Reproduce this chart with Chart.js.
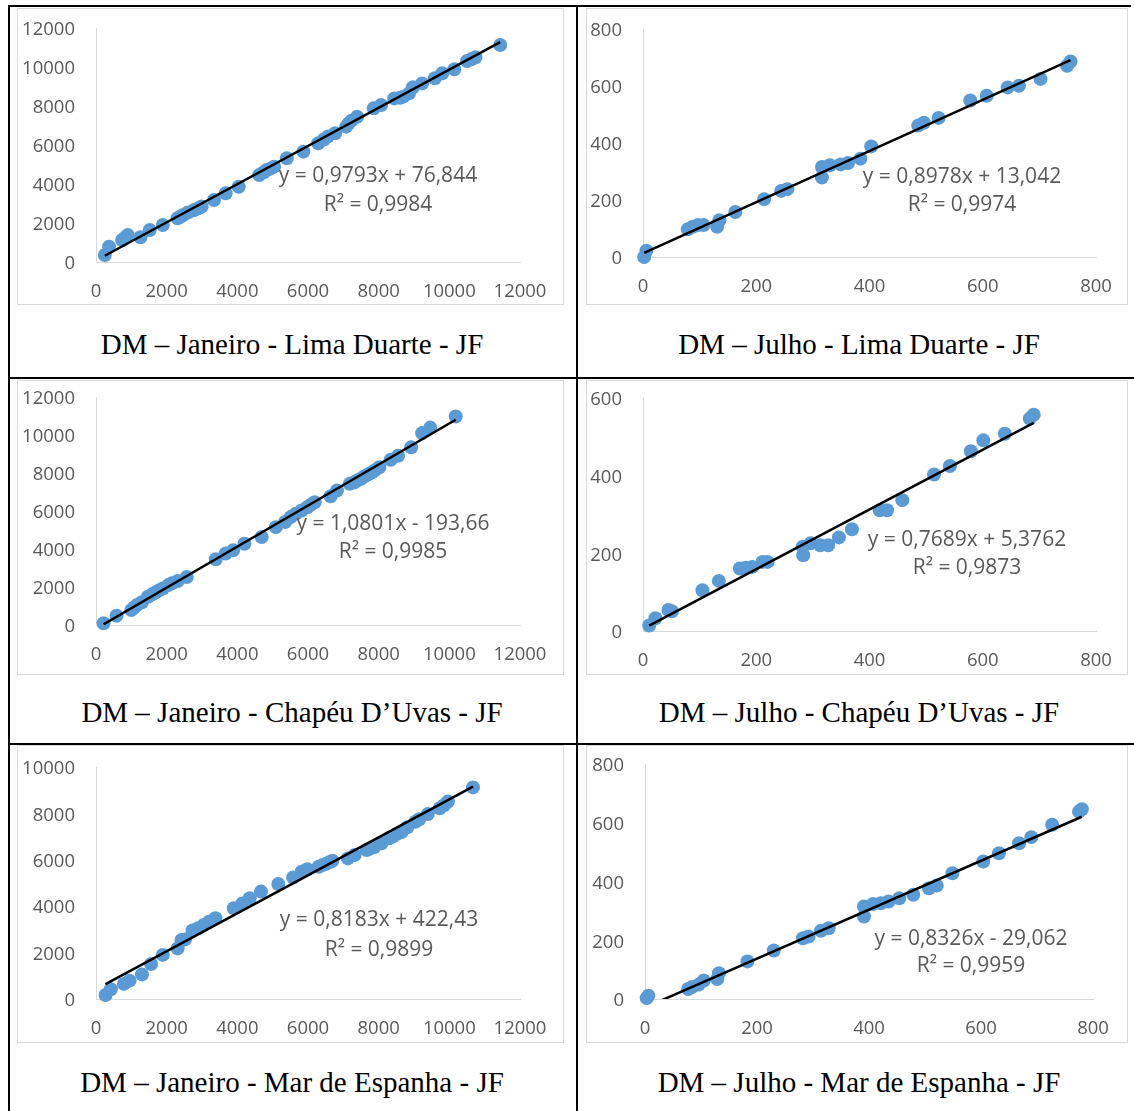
<!DOCTYPE html>
<html><head><meta charset="utf-8">
<script src="https://cdn.jsdelivr.net/npm/chart.js@4.4.1/dist/chart.umd.min.js"></script>
<style>
html,body{margin:0;padding:0;background:#fff;}
body{width:1134px;height:1111px;position:relative;overflow:hidden;}
.ln{position:absolute;background:#000;}
.box{position:absolute;border:1px solid #d9d9d9;box-sizing:border-box;}
canvas{position:absolute;}
.cap{position:absolute;font-family:"Liberation Serif","Times New Roman",serif;font-size:29px;color:#000;white-space:nowrap;transform:translate(-50%,-50%);}
</style></head><body>
<div class="ln" style="left:8px;top:5px;width:1123px;height:2px"></div>
<div class="ln" style="left:8px;top:5px;width:2px;height:1106px"></div>
<div class="ln" style="left:576px;top:5px;width:2px;height:1106px"></div>
<div class="ln" style="left:8px;top:377px;width:1126px;height:2px"></div>
<div class="ln" style="left:8px;top:743px;width:1126px;height:2px"></div>
<script>
// ---------- DATA ----------
const janLimaX = [250, 370, 740, 820, 900, 1260, 1520, 1890, 2310, 2400, 2470, 2600, 2780, 2900, 2990, 3340, 3670, 4040, 4620, 4750, 4830, 4950, 5040, 5400, 5870, 6290, 6450, 6560, 6770, 7080, 7150, 7230, 7390, 7860, 8070, 8440, 8600, 8700, 8860, 8970, 9230, 9590, 9800, 10140, 10500, 10620, 10740, 11440];
const janLimaY = [360, 780, 1130, 1250, 1380, 1270, 1640, 1900, 2240, 2330, 2410, 2540, 2670, 2760, 2840, 3180, 3520, 3860, 4460, 4600, 4720, 4800, 4890, 5320, 5660, 6090, 6280, 6430, 6600, 6940, 7100, 7250, 7450, 7880, 8050, 8390, 8420, 8480, 8650, 8960, 9160, 9420, 9680, 9880, 10310, 10400, 10500, 11130];

const julLimaX = [2, 6, 79, 88, 97, 107, 131, 135, 163, 214, 244, 255, 316, 316, 330, 349, 362, 384, 403, 486, 496, 522, 578, 607, 644, 664, 702, 749, 755];
const julLimaY = [0, 22, 97, 106, 112, 112, 106, 129, 158, 203, 232, 238, 316, 279, 322, 325, 330, 345, 388, 461, 471, 488, 549, 566, 595, 601, 625, 671, 686];

const janChapX = [215, 580, 1000, 1080, 1160, 1300, 1470, 1580, 1680, 1780, 1890, 2050, 2150, 2310, 2570, 3390, 3670, 3880, 4200, 4690, 5090, 5350, 5510, 5650, 5820, 5980, 6080, 6190, 6640, 6820, 7180, 7300, 7390, 7500, 7600, 7700, 7810, 7900, 8020, 8340, 8550, 8920, 9230, 9460, 10180];
const janChapY = [90, 490, 790, 920, 1050, 1200, 1490, 1600, 1710, 1820, 1920, 2100, 2200, 2310, 2530, 3460, 3760, 3930, 4280, 4630, 5150, 5420, 5680, 5850, 6030, 6200, 6330, 6460, 6780, 7080, 7430, 7500, 7600, 7700, 7830, 7930, 8040, 8150, 8300, 8700, 8910, 9350, 10100, 10390, 10970];

const julChapX = [11, 22, 45, 51, 105, 134, 171, 181, 193, 211, 220, 282, 283, 296, 313, 327, 346, 369, 418, 431, 458, 514, 542, 579, 601, 639, 683, 690];
const julChapY = [14, 33, 54, 51, 105, 129, 161, 163, 165, 178, 178, 217, 195, 226, 221, 221, 241, 262, 311, 311, 337, 403, 425, 463, 491, 508, 547, 557];

const janMarX = [270, 420, 790, 950, 1300, 1560, 1890, 2310, 2420, 2520, 2730, 2890, 3050, 3200, 3380, 3900, 4140, 4350, 4670, 5160, 5580, 5820, 5980, 6300, 6400, 6500, 6600, 6690, 7130, 7320, 7660, 7750, 7870, 8080, 8290, 8400, 8510, 8650, 8810, 9040, 9150, 9390, 9730, 9850, 9960, 10670];
const janMarY = [170, 420, 650, 790, 1060, 1510, 1900, 2180, 2540, 2570, 2950, 3050, 3190, 3330, 3480, 3910, 4120, 4340, 4630, 4960, 5240, 5490, 5590, 5700, 5760, 5820, 5890, 5960, 6060, 6210, 6420, 6480, 6540, 6710, 6930, 7000, 7110, 7200, 7400, 7640, 7750, 7970, 8220, 8350, 8510, 9120];

const julMarX = [3, 6, 77, 84, 96, 105, 129, 132, 183, 230, 282, 292, 314, 328, 391, 391, 407, 421, 435, 454, 479, 507, 521, 549, 604, 632, 668, 690, 727, 775, 780];
const julMarY = [3, 11, 34, 41, 49, 63, 68, 88, 128, 165, 207, 213, 232, 241, 315, 281, 323, 326, 332, 343, 355, 377, 386, 428, 468, 496, 530, 551, 593, 638, 646];

const slopes = [0.9793, 0.8978, 1.0801, 0.7689, 0.8183, 0.8326];
const intercepts = [76.844, 13.042, -193.66, 5.3762, 422.43, -29.062];
const eqTexts = ['y = 0,9793x + 76,844', 'y = 0,8978x + 13,042', 'y = 1,0801x - 193,66', 'y = 0,7689x + 5,3762', 'y = 0,8183x + 422,43', 'y = 0,8326x - 29,062'];
const r2Texts = ['R² = 0,9984', 'R² = 0,9974', 'R² = 0,9985', 'R² = 0,9873', 'R² = 0,9899', 'R² = 0,9959'];
const captions = ['DM – Janeiro - Lima Duarte - JF', 'DM – Julho - Lima Duarte - JF', 'DM – Janeiro - Chapéu D’Uvas - JF', 'DM – Julho - Chapéu D’Uvas - JF', 'DM – Janeiro - Mar de Espanha - JF', 'DM – Julho - Mar de Espanha - JF'];
const xAxisMax = [12000, 800, 12000, 800, 12000, 800];
const xAxisStep = [2000, 200, 2000, 200, 2000, 200];
const yAxisMax = [12000, 800, 12000, 600, 10000, 800];
const yAxisStep = [2000, 200, 2000, 200, 2000, 200];
const seriesX = [janLimaX, julLimaX, janChapX, julChapX, janMarX, julMarX];
const seriesY = [janLimaY, julLimaY, janChapY, julChapY, janMarY, julMarY];

// ---------- LAYOUT (page pixels) ----------
const layouts = [
  {box:[17,8,564,305],   plot:[96,28,520,262],   eq:[378,174,203], cap:[292,344]},
  {box:[586,8,1128,305], plot:[643,29,1096,257], eq:[962,175,203], cap:[859,344]},
  {box:[17,380,564,675], plot:[96,397,520,625],  eq:[393,522,550], cap:[292,712]},
  {box:[586,380,1128,675], plot:[643,398,1096,631], eq:[967,538,566], cap:[859,712]},
  {box:[17,745,564,1043], plot:[96,767,520,999], eq:[379,918,948], cap:[292,1082]},
  {box:[586,745,1128,1043], plot:[645,764,1093,999], eq:[971,937,964], cap:[859,1082]}
];

const eqPlugin = {
  id: 'eqlabel',
  afterDatasetsDraw(chart, args, o) {
    const ctx = chart.ctx;
    ctx.save();
    ctx.font = '21px "Open Sans"';
    ctx.fillStyle = '#595959';
    ctx.textAlign = 'center';
    ctx.textBaseline = 'middle';
    ctx.fillText(o.eq, o.x, o.y1 + 2);
    ctx.fillText(o.r2, o.x, o.y2 + 2);
    ctx.restore();
  }
};

const tickFont = {family: 'Open Sans', size: 18.5};
const tickColor = '#595959';
const axisColor = '#d9d9d9';
const pointColor = '#5B9BD5';

layouts.forEach((L, i) => {
  const [bl, bt, br, bb] = L.box;
  const [pl, pt, pr, pb] = L.plot;
  const box = document.createElement('div');
  box.className = 'box';
  box.style.cssText = `left:${bl}px;top:${bt}px;width:${br-bl}px;height:${bb-bt}px`;
  document.body.appendChild(box);
  const cv = document.createElement('canvas');
  cv.width = br - bl; cv.height = bb - bt;
  cv.style.left = bl + 'px'; cv.style.top = bt + 'px';
  cv.style.width = (br - bl) + 'px'; cv.style.height = (bb - bt) + 'px';
  document.body.appendChild(cv);
  const cap = document.createElement('div');
  cap.className = 'cap';
  cap.textContent = captions[i];
  cap.style.left = L.cap[0] + 'px'; cap.style.top = L.cap[1] + 'px';
  document.body.appendChild(cap);

  const xs = seriesX[i], ys = seriesY[i];
  const pts = xs.map((x, k) => ({x: x, y: ys[k]}));
  const xmin = Math.min(...xs), xmax = Math.max(...xs);
  const trend = [xmin, xmax].map(x => ({x: x, y: slopes[i] * x + intercepts[i]}));

  new Chart(cv, {
    type: 'scatter',
    data: {datasets: [
      {data: trend, showLine: true, borderColor: '#000', borderWidth: 2.5, pointRadius: 0, order: 0, tension: 0},
      {data: pts, backgroundColor: pointColor, borderColor: pointColor, borderWidth: 0, pointRadius: 7, order: 1, clip: false}
    ]},
    options: {
      responsive: false, animation: false, events: [],
      devicePixelRatio: 1,
      layout: {padding: {top: pt - bt, right: br - pr, left: 0, bottom: 0}},
      plugins: {
        legend: {display: false}, tooltip: {enabled: false},
        eqlabel: {eq: eqTexts[i], r2: r2Texts[i], x: L.eq[0] - bl, y1: L.eq[1] - bt, y2: L.eq[2] - bt}
      },
      scales: {
        x: {type: 'linear', position: 'bottom', min: 0, max: xAxisMax[i],
          ticks: {stepSize: xAxisStep[i], color: tickColor, font: tickFont, padding: 18.5, maxRotation: 0, autoSkip: false, callback: v => String(v)},
          grid: {display: false, drawTicks: false},
          border: {display: true, color: axisColor, width: 1},
          afterFit: s => { s.height = bb - pb; s.paddingLeft = 0; s.paddingRight = 0; }
        },
        y: {type: 'linear', position: 'left', min: 0, max: yAxisMax[i],
          ticks: {stepSize: yAxisStep[i], color: tickColor, font: tickFont, padding: 21, labelOffset: 2, autoSkip: false, callback: v => String(v)},
          grid: {display: false, drawTicks: false},
          border: {display: true, color: axisColor, width: 1},
          afterFit: s => { s.width = pl - bl; s.paddingTop = 0; s.paddingBottom = 0; }
        }
      }
    },
    plugins: [eqPlugin]
  });
});
</script>
</body></html>
